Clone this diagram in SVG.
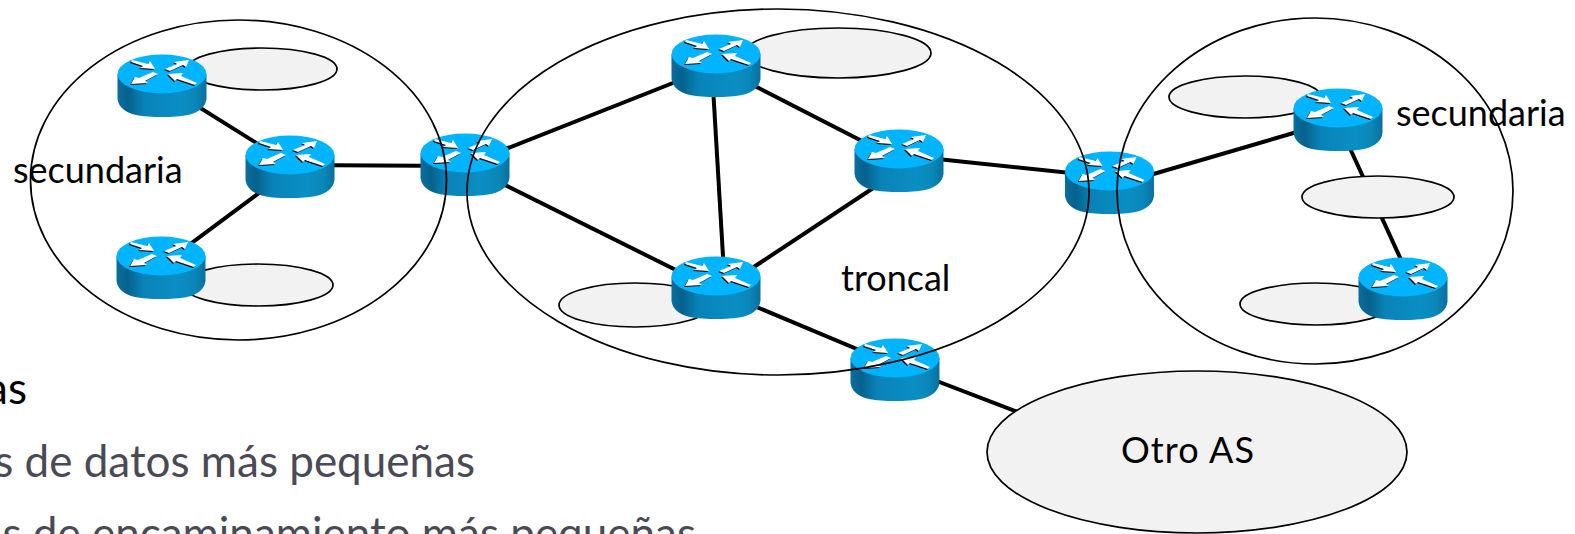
<svg xmlns="http://www.w3.org/2000/svg" xmlns:xlink="http://www.w3.org/1999/xlink" width="1575" height="534" viewBox="0 0 1575 534">
<style>
.area{fill:none;stroke:#000;stroke-width:1.7}
.cloud{fill:#f2f2f2;stroke:#000;stroke-width:1.7}
.link{stroke:#000;stroke-width:4;fill:none}
.lbl{font-family:"Lato","Liberation Sans",sans-serif;font-size:36px;fill:#000}
.head{font-family:"Lato","Liberation Sans",sans-serif;font-size:44px;fill:#000;text-anchor:end}
.bul{font-family:"Lato","Liberation Sans",sans-serif;font-size:44px;fill:#4a4a56;text-anchor:end}
</style>
<defs>
<linearGradient id="side" x1="0" x2="1" y1="0" y2="0">
<stop offset="0" stop-color="#0a6f9e"/><stop offset=".12" stop-color="#06618c"/><stop offset=".3" stop-color="#0883b8"/><stop offset=".7" stop-color="#0a8fc4"/><stop offset=".88" stop-color="#0a86b8"/><stop offset="1" stop-color="#0a6f9e"/>
</linearGradient>
<g id="arrows">
<path d="M-30-14L-14-10-12-13-7-5-22-6-19-8-31-12Z"/>
<path d="M3-5L15-10 12-12 27-14 24-7 21-9 8-3Z"/>
<path d="M-4 0L-17 7-14 9-31 10-27 3-23 4-9-2Z"/>
<path d="M6 0L21-1 19 2 35 9 33 11 15 5 13 7Z"/>
</g>
<g id="router">
<path d="M-44.500 0V25C-42 42-18 43 0 43S42 42 44.500 25V0Z" fill="url(#side)"/>
<ellipse cx="0" cy="0" rx="44.500" ry="19.500" fill="#00b4ff"/>
<use href="#arrows" fill="#000" transform="translate(-1 1)"/>
<use href="#arrows" fill="#fff"/>
</g>
</defs>
<rect width="1575" height="534" fill="#fff"/>
<g id="connectors">
<path class="link" d="M162 84L290 164"/>
<path class="link" d="M290 165L465 166"/>
<path class="link" d="M162 265L290 170"/>
<path class="link" d="M465 165L716 66"/>
<path class="link" d="M465 165L716 290"/>
<path class="link" d="M716 66L899 160"/>
<path class="link" d="M712 70L725 290"/>
<path class="link" d="M716 292L899 171"/>
<path class="link" d="M899 155L1109 177"/>
<path class="link" d="M716 290L895 365L1020 413"/>
<path class="link" d="M1109 187L1338 120"/>
<path class="link" d="M1337 120L1414 288"/>
</g>
<g id="clouds">
<ellipse id="cloud1" class="cloud" cx="262" cy="69" rx="75" ry="21"/>
<ellipse id="cloud2" class="cloud" cx="258" cy="285" rx="75" ry="21"/>
<ellipse id="cloud3" class="cloud" cx="838" cy="53" rx="93" ry="25"/>
<ellipse id="cloud4" class="cloud" cx="635" cy="305" rx="76" ry="22"/>
<ellipse id="cloud5" class="cloud" cx="1245" cy="97" rx="76" ry="21"/>
<ellipse id="cloud6" class="cloud" cx="1378" cy="197" rx="76" ry="21"/>
<ellipse id="cloud7" class="cloud" cx="1316" cy="304" rx="76" ry="21"/>
</g>
<g id="nodes">
<g id="r1"><use href="#router" x="162" y="74"/></g>
<g id="r2"><use href="#router" x="290" y="155"/></g>
<g id="r3"><use href="#router" x="161" y="256"/></g>
<g id="r4"><use href="#router" x="465" y="153"/></g>
<g id="r5"><use href="#router" x="716" y="54"/></g>
<g id="r6"><use href="#router" x="899" y="149"/></g>
<g id="r7"><use href="#router" x="1109.500" y="171"/></g>
<g id="r8"><use href="#router" x="716" y="276"/></g>
<g id="r9"><use href="#router" x="895" y="358"/></g>
<g id="r10"><use href="#router" x="1338" y="108"/></g>
<g id="r11"><use href="#router" x="1403" y="277"/></g>
</g>
<g id="areas">
<ellipse id="area-left" class="area" cx="238.500" cy="180" rx="208" ry="160"/>
<ellipse id="area-mid" class="area" cx="778" cy="192" rx="311" ry="183"/>
<ellipse id="area-right" class="area" cx="1315" cy="191" rx="198" ry="173"/>
<ellipse id="otro-as" class="cloud" cx="1197" cy="452" rx="210" ry="81"/>
</g>
<g id="labels">
<text class="lbl" x="13" y="183">secundaria</text>
<text class="lbl" x="841" y="291">troncal</text>
<text class="lbl" x="1396" y="126">secundaria</text>
<text class="lbl" x="1121" y="463" textLength="133">Otro AS</text>
<text class="head" x="27" y="404">as</text>
<text class="bul" x="475" y="477">s de datos más pequeñas</text>
<text class="bul" x="696" y="549">as de encaminamiento más pequeñas</text>
</g>
</svg>
